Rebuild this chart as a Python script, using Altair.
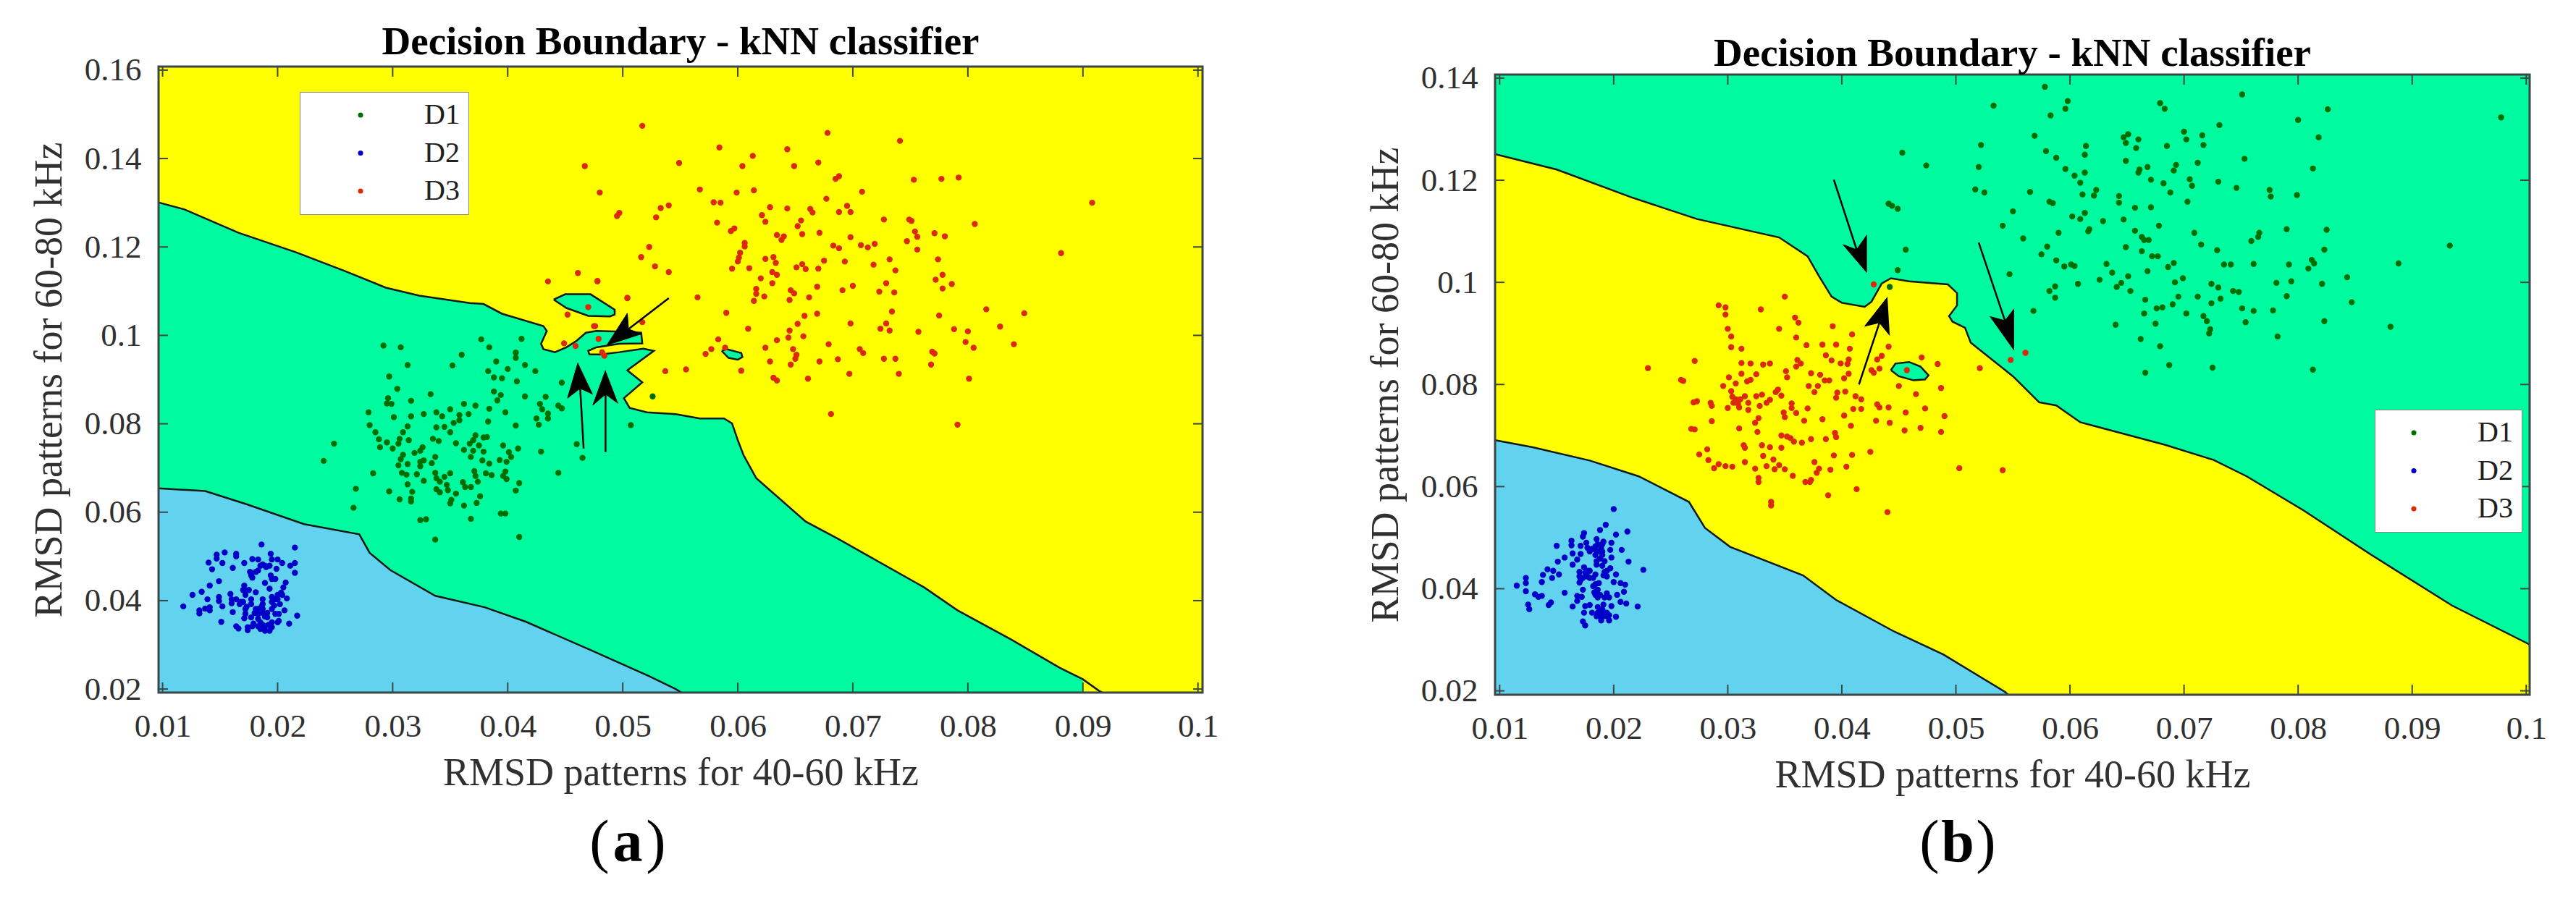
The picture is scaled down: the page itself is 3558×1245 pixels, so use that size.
import altair as alt
import pandas as pd

# ---------- panel (a) data ----------
a_d1 = [(.0292,.0977),(.0307,.0973),(.0377,.0991),(.0412,.0992),(.0384,.0973),(.0360,.0956),(.0407,.0961),(.0407,.0949),(.0313,.0933),(.0352,.0932),(.0390,.0941),(.0415,.0933),(.0400,.0924),(.0383,.0919),(.0424,.0919),(.0297,.0907),(.0388,.0905),(.0395,.0903),(.0408,.0896),(.0447,.0893),(.0304,.0879),(.0333,.0867),(.0388,.0873),(.0394,.0865),(.0391,.0853),(.0415,.0862),(.0433,.0861),(.0296,.0858),(.0295,.0846),(.0299,.0845),(.0316,.0852),(.0279,.0826),(.0301,.0815),(.0316,.0817),(.0327,.0822),(.0338,.0826),(.0343,.0817),(.0350,.0833),(.0362,.0845),(.0372,.0841),(.0384,.0834),(.0398,.0826),(.0358,.0820),(.0358,.0808),(.0366,.0822),(.0353,.0802),(.0383,.0805),(.0428,.0845),(.0430,.0833),(.0435,.0823),(.0435,.0812),(.0425,.0812),(.0427,.0798),(.0444,.0841),(.0447,.0835),(.0407,.0796),(.0280,.0797),(.0313,.0794),(.0338,.0792),(.0345,.0793),(.0350,.0781),(.0285,.0781),(.0309,.0781),(.0288,.0765),(.0295,.0758),(.0306,.0766),(.0314,.0763),(.0305,.0755),(.0289,.0747),(.0300,.0744),(.0249,.0755),(.0335,.0766),(.0340,.0761),(.0355,.0756),(.0372,.0774),(.0379,.0769),(.0382,.0770),(.0370,.0763),(.0367,.0755),(.0375,.0751),(.0396,.0751),(.0409,.0744),(.0326,.0747),(.0324,.0739),(.0319,.0734),(.0362,.0741),(.0370,.0739),(.0368,.0725),(.0379,.0737),(.0401,.0736),(.0429,.0737),(.0460,.0754),(.0465,.0723),(.0309,.0730),(.0307,.0720),(.0305,.0706),(.0337,.0725),(.0334,.0711),(.0324,.0714),(.0327,.0717),(.0324,.0704),(.0313,.0709),(.0240,.0716),(.0378,.0717),(.0384,.0710),(.0393,.0718),(.0399,.0714),(.0403,.0725),(.0283,.0688),(.0308,.0689),(.0312,.0685),(.0321,.0686),(.0337,.0689),(.0338,.0677),(.0345,.0680),(.0350,.0688),(.0371,.0693),(.0372,.0682),(.0381,.0688),(.0386,.0684),(.0398,.0692),(.0396,.0682),(.0399,.0675),(.0444,.0689),(.0327,.0671),(.0341,.0669),(.0361,.0668),(.0374,.0669),(.0410,.0666),(.0313,.0663),(.0347,.0662),(.0363,.0657),(.0368,.0657),(.0407,.0649),(.0268,.0653),(.0338,.0652),(.0341,.0645),(.0348,.0650),(.0297,.0647),(.0317,.0646),(.0355,.0642),(.0306,.0629),(.0316,.0631),(.0316,.0624),(.0376,.0636),(.0373,.0621),(.0351,.0628),(.0350,.0620),(.0362,.0615),(.0266,.0610),(.0394,.0597),(.0398,.0597),(.0324,.0582),(.0329,.0584),(.0368,.0585),(.0337,.0538),(.0410,.0544),(.0526,.0862),(.0507,.0797)]
a_d2 = [(.0186,.0527),(.0215,.0520),(.0154,.0509),(.0147,.0504),(.0147,.0495),(.0164,.0506),(.0164,.0500),(.0194,.0506),(.0140,.0486),(.0152,.0485),(.0171,.0485),(.0178,.0494),(.0183,.0493),(.0187,.0482),(.0195,.0493),(.0200,.0493),(.0204,.0485),(.0211,.0479),(.0215,.0485),(.0143,.0471),(.0161,.0474),(.0176,.0465),(.0183,.0468),(.0190,.0476),(.0199,.0472),(.0215,.0463),(.0178,.0452),(.0194,.0457),(.0198,.0449),(.0149,.0444),(.0189,.0440),(.0207,.0441),(.0141,.0434),(.0171,.0434),(.0205,.0430),(.0193,.0427),(.0134,.0420),(.0172,.0422),(.0181,.0419),(.0203,.0418),(.0126,.0413),(.0159,.0415),(.0149,.0408),(.0139,.0403),(.0149,.0399),(.0177,.0403),(.0187,.0403),(.0198,.0403),(.0208,.0405),(.0118,.0387),(.0141,.0385),(.0152,.0387),(.0160,.0394),(.0167,.0392),(.0173,.0386),(.0186,.0386),(.0197,.0389),(.0137,.0382),(.0132,.0378),(.0132,.0371),(.0141,.0378),(.0161,.0374),(.0172,.0370),(.0180,.0372),(.0187,.0372),(.0206,.0378),(.0201,.0370),(.0217,.0366),(.0171,.0360),(.0183,.0359),(.0191,.0362),(.0201,.0354),(.0151,.0352),(.0179,.0348),(.0210,.0348),(.0164,.0342),(.0166,.0337),(.0174,.0340),(.0174,.0333),(.0185,.0336),(.0189,.0332),(.0193,.0332),(.0195,.0340),(.0187,.0345),(.0170,.0397),(.0164,.0403),(.0172,.0413),(.0200,.0403),(.0195,.0397),(.0183,.0381),(.0189,.0364),(.0195,.0351),
        (.0160,.0403),(.0168,.0397),(.0177,.0392),(.0181,.0381),(.0172,.0381),(.0187,.0381),(.0191,.0372),(.0195,.0381),(.0198,.0370),(.0183,.0370),(.0177,.0362),(.0185,.0351),(.0189,.0342),(.0192,.0345),(.0200,.0351),(.0183,.0342),(.0178,.0342),(.0202,.0392),(.0204,.0413),(.0200,.0413),(.0195,.0408),(.0187,.0392),(.0189,.0479),(.0185,.0479),(.0193,.0479),(.0177,.0457),(.0181,.0465),(.0195,.0449),(.0170,.0424),(.0175,.0424)]
a_d3 = [(.0517,.1474),(.0678,.1458),(.0741,.1440),(.0584,.1425),(.0643,.1421),(.0613,.1406),(.0467,.1383),(.0549,.1390),(.0604,.1383),(.0649,.1383),(.0670,.1391),(.0688,.1360),(.0685,.1354),(.0753,.1352),(.0777,.1354),(.0792,.1357),(.0480,.1323),(.0567,.1330),(.0599,.1323),(.0614,.1328),(.0708,.1325),(.0677,.1309),(.0908,.1300),(.0579,.1301),(.0585,.1300),(.0540,.1294),(.0533,.1288),(.0628,.1290),(.0643,.1287),(.0663,.1286),(.0665,.1278),(.0695,.1293),(.0688,.1279),(.0698,.1279),(.0497,.1277),(.0495,.1270),(.0529,.1267),(.0621,.1272),(.0624,.1257),(.0655,.1260),(.0652,.1247),(.0727,.1262),(.0749,.1262),(.0751,.1259),(.0582,.1255),(.0806,.1252),(.0597,.1242),(.0594,.1236),(.0754,.1235),(.0756,.1223),(.0771,.1231),(.0780,.1224),(.0671,.1232),(.0656,.1229),(.0634,.1227),(.0640,.1224),(.0638,.1216),(.0698,.1222),(.0747,.1213),(.0606,.1209),(.0606,.1201),(.0523,.1200),(.0683,.1203),(.0688,.1197),(.0707,.1204),(.0713,.1199),(.0719,.1207),(.0756,.1194),(.0881,.1186),(.0602,.1187),(.0601,.1176),(.0600,.1167),(.0516,.1177),(.0624,.1173),(.0631,.1177),(.0633,.1164),(.0675,.1169),(.0693,.1167),(.0732,.1172),(.0774,.1172),(.0718,.1160),(.0528,.1156),(.0595,.1151),(.0610,.1152),(.0651,.1154),(.0656,.1161),(.0659,.1150),(.0670,.1151),(.0737,.1147),(.0540,.1143),(.0630,.1143),(.0634,.1137),(.0778,.1137),(.0620,.1129),(.0772,.1126),(.0478,.1123),(.0630,.1118),(.0729,.1118),(.0786,.1116),(.0669,.1110),(.0700,.1112),(.0778,.1106),(.0616,.1105),(.0616,.1094),(.0646,.1102),(.0649,.1095),(.0691,.1102),(.0723,.1099),(.0736,.1097),(.0504,.1085),(.0565,.1086),(.0623,.1088),(.0662,.1086),(.0614,.1078),(.0645,.1080),(.0590,.1051),(.0816,.1059),(.0849,.1050),(.0734,.1054),(.0669,.1049),(.0658,.1044),(.0775,.1045),(.0517,.1030),(.0698,.1027),(.0729,.1027),(.0652,.1026),(.0828,.1020),(.0724,.1015),(.0732,.1011),(.0609,.1015),(.0645,.1011),(.0757,.1008),(.0788,.1014),(.0800,.1009),(.0476,.1021),(.0470,.1064),
        (.0805,.0972),(.0798,.0985),(.0840,.0980),(.0679,.0980),(.0706,.0969),(.0709,.0960),(.0727,.0947),(.0737,.0947),(.0740,.0913),(.0768,.0934),(.0769,.0963),(.0771,.0959),(.0801,.0902),(.0697,.0913),(.0687,.0946),(.0671,.0941),(.0661,.0902),(.0650,.0947),(.0646,.0934),(.0651,.0956),(.0648,.0969),(.0634,.0989),(.0644,.0995),(.0624,.0972),(.0628,.0941),(.0631,.0904),(.0634,.0898),(.0603,.0920),(.0572,.0958),(.0577,.0969),(.0583,.0991),(.0589,.0972),(.0555,.0923),(.0537,.0919),(.0681,.0822),(.0791,.0798),(.0657,.0998),
        (.0435,.1122),(.0461,.1141),(.0478,.1122),(.0452,.1047),(.0475,.1021),(.0504,.1084),(.0479,.0992),(.0449,.0982),(.0459,.0976),(.0482,.0962),(.0484,.0954)]
a_upper = [(.0096,.1301),(.0119,.1285),(.0166,.1232),(.0216,.1188),(.0259,.1145),(.0294,.1108),(.0323,.1090),(.0367,.1073),(.0379,.1071),(.0395,.1049),(.0431,.1021),(.0434,.1010),(.0429,.0981),(.0431,.0969),(.0441,.0962),(.0451,.0973),(.0460,.0988),(.0468,.1006),(.0477,.1010),(.0493,.1009),(.0516,.1006),(.0517,.0982),(.0497,.0981),(.0477,.0973),(.0470,.0965),(.0471,.0957),(.0481,.0957),(.0497,.0962),(.0518,.0970),(.0527,.0965),(.0504,.0921),(.0517,.0894),(.0501,.0858),(.0506,.0836),(.0521,.0826),(.0546,.0822),(.0567,.0812),(.0588,.0812),(.0595,.0801),(.0600,.0763),(.0605,.0729),(.0616,.0677),(.0659,.0579),(.0687,.0540),(.0762,.0430),(.0791,.0378),(.0837,.0313),(.0880,.0248),(.0900,.0222)]
a_upper_end = [(.0914,.0196),(.0917,.0192)]
a_lower = [(.0096,.0654),(.0137,.0648),(.0173,.0618),(.0223,.0573),(.0271,.0550),(.0280,.0508),(.0298,.0469),(.0337,.0411),(.0380,.0385),(.0416,.0352),(.0473,.0287),(.0523,.0229),(.0546,.0200),(.0551,.0192)]
a_islands = [[(.0440,.1081),(.0450,.1093),(.0472,.1093),(.0493,.1058),(.0493,.1047),(.0489,.1043),(.0470,.1044),(.0451,.1062)],
             [(.0586,.0965),(.0590,.0969),(.0603,.0960),(.0604,.0951),(.0600,.0945),(.0592,.0949)]]
# arrows: tail, tip, barb, notch, barb
a_arrows = [[(.0466,.0744),(.0461,.0938),(.0452,.0858),(.0463,.0880),(.0474,.0867)],
            [(.0485,.0736),(.0485,.0921),(.0474,.0842),(.0485,.0867),(.0496,.0846)],
            [(.0540,.1084),(.0486,.0977),(.0504,.1050),(.0505,.1014),(.0517,.1003)]]

# ---------- panel (b) data ----------
b_d1 = [(.0578,.1383),(.0751,.1368),(.0598,.1355),(.0533,.1346),(.0596,.1340),(.0679,.1351),(.0683,.1340),(.0826,.1339),(.0583,.1327),(.0978,.1323),(.0800,.1318),(.0731,.1308),(.0700,.1295),(.0569,.1287),(.0716,.1288),(.0651,.1290),(.0647,.1284),(.0660,.1280),(.0702,.1280),(.0649,.1273),(.0818,.1284),(.0522,.1269),(.0614,.1267),(.0685,.1267),(.0717,.1269),(.0658,.1263),(.0579,.1257),(.0613,.1250),(.0588,.1244),(.0753,.1242),(.0649,.1238),(.0712,.1234),(.0520,.1226),(.0693,.1230),(.0691,.1219),(.0668,.1226),(.0661,.1221),(.0660,.1215),(.0596,.1222),(.0813,.1223),(.0604,.1209),(.0613,.1215),(.0671,.1201),(.0705,.1202),(.0609,.1195),(.0682,.1194),(.0730,.1197),(.0707,.1189),(.0746,.1185),(.0517,.1182),(.0525,.1176),(.0565,.1177),(.0623,.1181),(.0621,.1170),(.0611,.1172),(.0688,.1176),(.0775,.1181),(.0776,.1168),(.0799,.1171),(.0643,.1169),(.0643,.1156),(.0703,.1158),(.0582,.1158),(.0585,.1155),(.0657,.1146),(.0671,.1147),(.0550,.1139),(.0613,.1136),(.0602,.1129),(.0609,.1124),(.0629,.1120),(.0647,.1123),(.0541,.1111),(.0678,.1111),(.0617,.1104),(.0616,.1100),(.0590,.1097),(.0709,.1097),(.0790,.1104),(.0825,.1103),(.0657,.1101),(.0663,.1089),(.0665,.1083),(.0669,.1083),(.0766,.1097),(.0765,.1089),(.0759,.1081),(.0559,.1086),(.0715,.1074),(.0933,.1072),(.0580,.1070),(.0649,.1069),(.0729,.1063),(.0823,.1064),(.0575,.1055),(.0663,.1061),(.0672,.1051),(.0677,.1051),(.0588,.1043),(.0595,.1031),(.0601,.1035),(.0604,.1032),(.0632,.1036),(.0691,.1038),(.0686,.1030),(.0735,.1035),(.0741,.1035),(.0761,.1036),(.0792,.1035),(.0812,.1044),(.0814,.1037),(.0809,.1027),(.0888,.1037),(.0547,.1016),(.0637,.1019),(.0668,.1022),(.0651,.1012),(.0626,.1005),(.0699,.1008),(.0692,.1000),(.0843,.1010),(.0607,.0997),(.0645,.0999),(.0641,.0991),(.0724,.0997),(.0730,.0990),(.0781,.0999),(.0794,.1002),(.0821,.0997),(.0587,.0992),(.0582,.0983),(.0653,.0983),(.0743,.0983),(.0748,.0981),(.0587,.0970),(.0695,.0972),(.0712,.0972),(.0732,.0968),(.0790,.0973),(.0666,.0966),(.0847,.0961),(.0724,.0959),(.0690,.0957),(.0681,.0951),(.0676,.0949),(.0751,.0949),(.0761,.0944),(.0778,.0945),(.0568,.0944),(.0665,.0939),(.0702,.0939),(.0717,.0934),(.0720,.0924),(.0754,.0922),(.0823,.0924),(.0675,.0919),(.0640,.0917),(.0881,.0913),(.0723,.0908),(.0722,.0900),(.0782,.0894),(.0662,.0889),(.0679,.0875),(.0666,.0823),(.0687,.0838),(.0725,.0833),(.0813,.0829),(.0453,.1254),(.0474,.1229),(.0444,.1150),(.0449,.1144),(.0441,.1154),(.0442,.0991),(.0449,.1024),(.0456,.1064)]
b_d2 = [(.0200,.0556),(.0193,.0525),(.0188,.0515),(.0212,.0512),(.0202,.0506),(.0174,.0509),(.0173,.0502),(.0163,.0494),(.0163,.0485),(.0150,.0484),(.0185,.0497),(.0191,.0492),(.0198,.0490),(.0176,.0490),(.0171,.0484),(.0184,.0483),(.0189,.0480),(.0197,.0476),(.0207,.0476),(.0179,.0473),(.0164,.0469),(.0171,.0468),(.0184,.0466),(.0190,.0466),(.0157,.0461),(.0198,.0461),(.0168,.0457),(.0151,.0453),(.0185,.0454),(.0192,.0454),(.0213,.0453),(.0164,.0447),(.0185,.0447),(.0142,.0438),(.0147,.0435),(.0174,.0442),(.0179,.0435),(.0170,.0433),(.0197,.0440),(.0192,.0433),(.0226,.0437),(.0138,.0427),(.0152,.0428),(.0146,.0421),(.0123,.0421),(.0170,.0424),(.0177,.0424),(.0182,.0421),(.0194,.0424),(.0202,.0428),(.0137,.0413),(.0123,.0411),(.0170,.0412),(.0187,.0411),(.0200,.0413),(.0206,.0411),(.0210,.0408),(.0115,.0406),(.0182,.0405),(.0123,.0395),(.0173,.0398),(.0209,.0394),(.0157,.0392),(.0183,.0393),(.0131,.0389),(.0137,.0386),(.0134,.0384),(.0168,.0386),(.0172,.0384),(.0194,.0391),(.0203,.0388),(.0186,.0383),(.0196,.0383),(.0206,.0374),(.0211,.0371),(.0145,.0373),(.0143,.0368),(.0125,.0369),(.0126,.0360),(.0168,.0376),(.0164,.0365),(.0175,.0366),(.0179,.0368),(.0191,.0369),(.0198,.0366),(.0221,.0365),(.0174,.0353),(.0181,.0353),(.0188,.0355),(.0194,.0353),(.0196,.0348),(.0202,.0345),(.0189,.0338),(.0196,.0338),(.0173,.0336),(.0175,.0328),(.0191,.0346),(.0185,.0346),
        (.0186,.0364),(.0190,.0360),(.0186,.0353),(.0192,.0353),(.0188,.0346),(.0194,.0346),(.0184,.0388),(.0188,.0388),(.0192,.0383),(.0186,.0398),(.0184,.0409),(.0175,.0431),(.0173,.0421),(.0179,.0421),(.0171,.0417),(.0186,.0473),(.0190,.0473),(.0184,.0476),(.0186,.0487),(.0190,.0487),(.0181,.0478),(.0177,.0480),(.0188,.0459),(.0190,.0445),(.0194,.0435),(.0191,.0426),(.0177,.0435),(.0184,.0428)]
b_d3 = [(.0350,.0972),(.0292,.0955),(.0298,.0951),(.0298,.0937),(.0329,.0947),(.0359,.0931),(.0362,.0921),(.0345,.0909),(.0300,.0909),(.0392,.0914),(.0409,.0898),(.0303,.0894),(.0360,.0892),(.0303,.0873),(.0312,.0870),(.0369,.0877),(.0383,.0878),(.0395,.0878),(.0407,.0870),(.0441,.0874),(.0435,.0856),(.0431,.0849),(.0386,.0857),(.0391,.0847),(.0406,.0849),(.0470,.0853),(.0271,.0846),(.0312,.0842),(.0320,.0841),(.0331,.0839),(.0337,.0841),(.0361,.0848),(.0364,.0841),(.0360,.0835),(.0399,.0841),(.0405,.0840),(.0484,.0840),(.0230,.0832),(.0433,.0831),(.0426,.0828),(.0428,.0823),(.0457,.0828),(.0312,.0821),(.0325,.0820),(.0351,.0826),(.0352,.0814),(.0373,.0822),(.0381,.0819),(.0406,.0821),(.0402,.0812),(.0301,.0814),(.0320,.0809),(.0317,.0806),(.0307,.0802),(.0259,.0809),(.0261,.0807),(.0296,.0797),(.0371,.0797),(.0379,.0797),(.0385,.0808),(.0389,.0808),(.0450,.0797),(.0487,.0793),(.0303,.0787),(.0344,.0790),(.0342,.0785),(.0376,.0785),(.0403,.0786),(.0396,.0784),(.0395,.0774),(.0465,.0781),(.0304,.0776),(.0307,.0771),(.0311,.0771),(.0315,.0777),(.0305,.0764),(.0309,.0762),(.0325,.0777),(.0330,.0780),(.0347,.0778),(.0412,.0777),(.0417,.0771),(.0273,.0767),(.0270,.0765),(.0285,.0764),(.0286,.0758),(.0318,.0764),(.0337,.0770),(.0334,.0764),(.0328,.0758),(.0356,.0763),(.0356,.0754),(.0300,.0754),(.0310,.0755),(.0318,.0750),(.0370,.0753),(.0410,.0752),(.0417,.0752),(.0431,.0761),(.0433,.0755),(.0441,.0755),(.0473,.0753),(.0349,.0745),(.0350,.0736),(.0360,.0744),(.0456,.0745),(.0402,.0739),(.0490,.0738),(.0327,.0734),(.0324,.0725),(.0286,.0728),(.0367,.0729),(.0383,.0732),(.0430,.0729),(.0442,.0725),(.0408,.0719),(.0310,.0714),(.0268,.0713),(.0271,.0712),(.0326,.0707),(.0455,.0710),(.0469,.0715),(.0487,.0707),(.0347,.0700),(.0352,.0698),(.0355,.0695),(.0358,.0688),(.0365,.0686),(.0373,.0693),(.0386,.0693),(.0394,.0705),(.0395,.0697),(.0314,.0681),(.0315,.0676),(.0330,.0681),(.0337,.0677),(.0347,.0676),(.0282,.0673),(.0275,.0663),(.0425,.0668),(.0331,.0660),(.0393,.0661),(.0409,.0662),(.0283,.0652),(.0340,.0653),(.0315,.0648),(.0376,.0648),(.0292,.0644),(.0298,.0640),(.0304,.0639),(.0345,.0642),(.0334,.0640),(.0404,.0639),(.0288,.0636),(.0324,.0635),(.0341,.0634),(.0350,.0634),(.0380,.0635),(.0390,.0633),(.0378,.0627),(.0357,.0621),(.0327,.0617),(.0327,.0609),(.0368,.0609),(.0372,.0609),(.0373,.0613),(.0413,.0595),(.0388,.0583),(.0338,.0570),(.0338,.0563),(.0440,.0550),(.0428,.0996),(.0548,.0848),(.0561,.0862),(.0521,.0832),(.0503,.0636),(.0541,.0632)]
b_upper = [(.0096,.1251),(.0150,.1221),(.0215,.1167),(.0273,.1124),(.0345,.1088),(.0370,.1051),(.0380,.1012),(.0391,.0972),(.0400,.0960),(.0420,.0952),(.0426,.0962),(.0435,.0998),(.0443,.1008),(.0459,.1002),(.0493,.0996),(.0501,.0979),(.0501,.0955),(.0494,.0934),(.0497,.0923),(.0508,.0911),(.0513,.0882),(.0550,.0816),(.0573,.0765),(.0588,.0759),(.0609,.0726),(.0624,.0717),(.0683,.0682),(.0726,.0652),(.0755,.0620),(.0805,.0553),(.0863,.0468),(.0935,.0367),(.1000,.0294),(.1005,.0288)]
b_lower = [(.0096,.0691),(.0129,.0677),(.0179,.0651),(.0222,.0620),(.0266,.0570),(.0280,.0519),(.0302,.0482),(.0366,.0426),(.0395,.0378),(.0446,.0316),(.0489,.0271),(.0543,.0198),(.0546,.0192)]
b_islands = [[(.0443,.0828),(.0447,.0841),(.0459,.0844),(.0469,.0835),(.0476,.0818),(.0473,.0810),(.0463,.0808),(.0450,.0816)]]
b_arrows = [[(.0393,.1201),(.0422,.1019),(.0401,.1074),(.0413,.1064),(.0422,.1093)],
            [(.0415,.0800),(.0440,.0971),(.0420,.0914),(.0433,.0921),(.0442,.0896)],
            [(.0520,.1078),(.0551,.0867),(.0530,.0933),(.0543,.0925),(.0551,.0948)]]

x_ticks = [.01,.02,.03,.04,.05,.06,.07,.08,.09,.1]
a_y_ticks = [.02,.04,.06,.08,.1,.12,.14,.16]
b_y_ticks = [.02,.04,.06,.08,.1,.12,.14]
classes = ["D1","D2","D3"]
class_colors = ["#006E00","#0000C8","#DC2A08"]
YELLOW, GREEN, BLUE = "#FFFF00", "#00FA9F", "#62D3EF"
SERIF = "Liberation Serif"
TEXT = "#303030"
FRAME = "#3c4646"


def pts(seq):
    return pd.DataFrame({"x":[p[0] for p in seq],"y":[p[1] for p in seq],"i":list(range(len(seq)))})


def panel(title, xdom, ydom, yticks, w, h, bg, d1, d2, d3, fills, lines, arrows, legend_xy, sym_off, letter, lab_xy, top=0):
    # `top` leaves a blank strip above the plot area so panel (b) sits lower than panel (a)
    X = alt.X("x:Q", scale=alt.Scale(domain=xdom, nice=False, zero=False),
              axis=alt.Axis(values=x_ticks, format=".2~f", title="RMSD patterns for 40-60 kHz", grid=False,
                            domain=False, ticks=False, labelPadding=24, titlePadding=15, labelOverlap=False,
                            labelFont=SERIF, labelFontSize=45, labelColor=TEXT,
                            titleFont=SERIF, titleFontSize=54, titleFontWeight="normal", titleColor=TEXT))
    Y = alt.Y("y:Q", scale=alt.Scale(domain=ydom, nice=False, zero=False, range=[h+top, top]),
              axis=alt.Axis(values=yticks, format=".2~f", title="RMSD patterns for 60-80 kHz", grid=False,
                            domain=False, ticks=False, labelPadding=24, titlePadding=21, labelOverlap=False,
                            labelFont=SERIF, labelFontSize=45, labelColor=TEXT,
                            titleFont=SERIF, titleFontSize=54, titleFontWeight="normal", titleColor=TEXT))
    one = alt.Data(values=[{"a":0}])
    layers = [alt.Chart(one).mark_rect(color=bg).encode(x=alt.value(0), x2=alt.value(w), y=alt.value(top), y2=alt.value(h+top))]
    for seq, col in fills:
        layers.append(alt.Chart(pts(seq)).mark_line(fill=col, stroke=col, strokeWidth=0, clip=True).encode(x=X, y=Y, order="i:Q"))
    for seq in lines:
        layers.append(alt.Chart(pts(seq)).mark_line(color="#101a14", strokeWidth=2.5, clip=True).encode(x=X, y=Y, order="i:Q"))
    df = pd.concat([pts(d1).assign(c="D1"), pts(d2).assign(c="D2"), pts(d3).assign(c="D3")])
    layers.append(alt.Chart(df).mark_circle(size=70, opacity=1).encode(
        x=X, y=Y,
        color=alt.Color("c:N", scale=alt.Scale(domain=classes, range=class_colors),
                        legend=alt.Legend(title=None, orient="none", legendX=legend_xy[0], legendY=legend_xy[1]+top,
                                          fillColor="white", strokeColor="#8a8a8a", padding=12,
                                          labelFont=SERIF, labelFontSize=40, labelColor="#202020",
                                          symbolSize=50, symbolType="circle", symbolStrokeWidth=0,
                                          symbolOffset=sym_off, labelOffset=68, rowPadding=12.5, clipHeight=40))))
    for a in arrows:
        tail, tip, b1, notch, b2 = a
        layers.append(alt.Chart(pts([tail, notch])).mark_line(color="black", strokeWidth=2.5).encode(x=X, y=Y, order="i:Q"))
        layers.append(alt.Chart(pts([tip, b1, notch, b2])).mark_line(fill="black", stroke="black", strokeWidth=1).encode(x=X, y=Y, order="i:Q"))
    # inward tick marks on all four sides
    xt = pd.DataFrame({"x":x_ticks})
    yt = pd.DataFrame({"y":yticks})
    layers.append(alt.Chart(xt).mark_rule(color=FRAME, strokeWidth=2).encode(x=X, y=alt.value(h+top), y2=alt.value(h+top-14)))
    layers.append(alt.Chart(xt).mark_rule(color=FRAME, strokeWidth=2).encode(x=X, y=alt.value(top), y2=alt.value(top+14)))
    layers.append(alt.Chart(yt).mark_rule(color=FRAME, strokeWidth=2).encode(y=Y, x=alt.value(0), x2=alt.value(13)))
    layers.append(alt.Chart(yt).mark_rule(color=FRAME, strokeWidth=2).encode(y=Y, x=alt.value(w), x2=alt.value(w-13)))
    layers.append(alt.Chart(one).mark_rect(filled=False, stroke=FRAME, strokeWidth=3).encode(x=alt.value(0), x2=alt.value(w), y=alt.value(top), y2=alt.value(h+top)))
    # sub-figure label: regular parentheses, bold letter
    for txt, dx, wt in [("(", -39, "normal"), (letter, 0, "bold"), (")", 39, "normal")]:
        layers.append(alt.Chart(one).mark_text(text=txt, font=SERIF, fontSize=82, fontWeight=wt, color="black", baseline="middle", align="center", dx=dx)
                      .encode(x=alt.value(lab_xy[0]), y=alt.value(lab_xy[1]+top)))
    return alt.layer(*layers).properties(
        width=w, height=h+top,
        title=alt.TitleParams(title, font=SERIF, fontSize=55, fontWeight="bold", color="black", anchor="middle", offset=-12-top*0.5))


left = panel("Decision Boundary -  kNN classifier", [.00965,.1004], [.0192,.1608], a_y_ticks, 1442, 865, YELLOW,
             a_d1, a_d2, a_d3,
             [(a_upper + [(.0900,.0192),(.0096,.0192)], GREEN), (a_lower + [(.0096,.0192)], BLUE)] + [(s, GREEN) for s in a_islands],
             [a_upper + a_upper_end, a_lower] + [s + s[:1] for s in a_islands],
             a_arrows, (195, 35), 52, "a", (648, 1073))
right = panel("Decision Boundary - kNN classifier", [.0096,.1003], [.01923,.1407], b_y_ticks, 1429, 857, GREEN,
              b_d1, b_d2, b_d3,
              [(b_upper + [(.1005,.0192),(.0096,.0192)], YELLOW), (b_lower + [(.0096,.0192)], BLUE)] + [(s, GREEN) for s in b_islands],
              [b_upper, b_lower] + [s + s[:1] for s in b_islands],
              b_arrows, (1215, 463), 22, "b", (639, 1062), top=11)

chart = alt.hconcat(left, right, spacing=204,
                    padding={"left":33,"top":22,"right":0,"bottom":70}, background="white"
                    ).resolve_scale(color="independent").configure_view(stroke=None)

chart.save("out.html", embed_options={"renderer": "svg", "actions": False})
